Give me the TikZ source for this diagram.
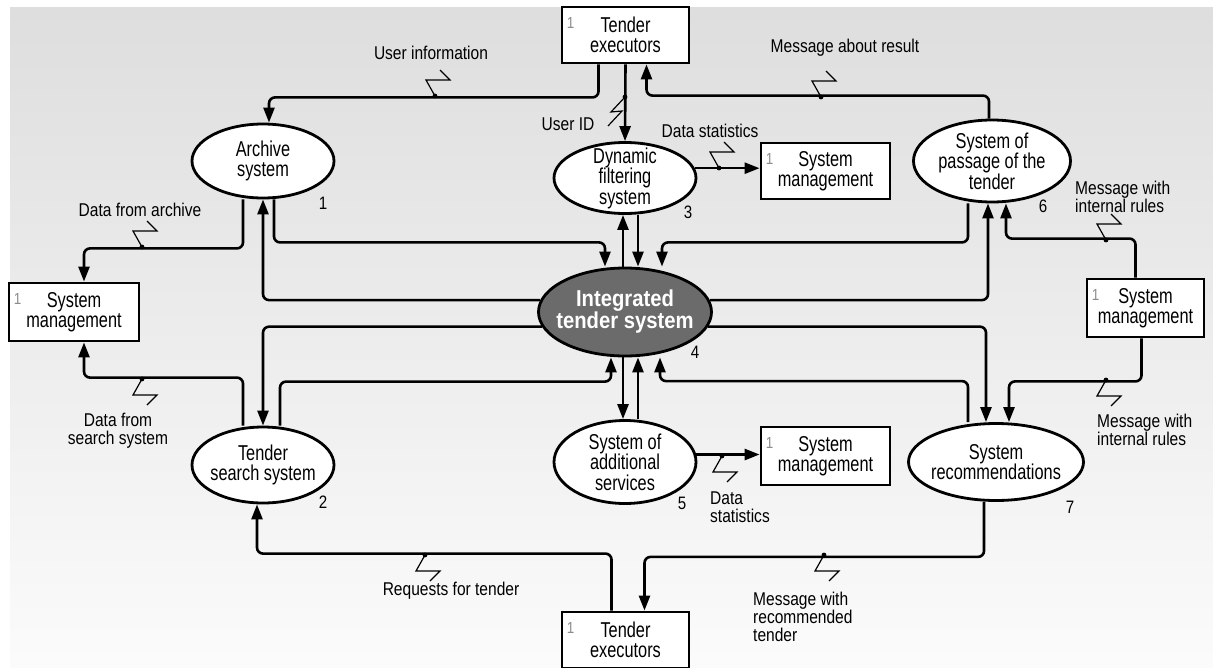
\documentclass[tikz,border=0pt]{standalone}
\usepackage{fontspec}
\setmainfont{Liberation Sans}[FakeStretch=0.76]
\newfontfamily\lblfont{Liberation Sans}[FakeStretch=0.84]
\newfontfamily\intfont{Liberation Sans}[FakeStretch=0.88]
\usetikzlibrary{arrows.meta}
\usetikzlibrary{shapes.geometric}

\begin{document}
\begin{tikzpicture}[x=1pt, y=-1pt,
  proc/.style={draw, black, fill=white, ellipse, line width=2.8pt, inner sep=-10pt, align=center, font=\fontsize{21.5}{20.5}\selectfont},
  ext/.style={draw, black, fill=white, rectangle, line width=2.8pt, inner sep=2pt, align=center, font=\fontsize{21.5}{20.5}\selectfont},
  flow/.style={line width=2.6pt, rounded corners=6pt, -{Triangle[length=15pt, width=11pt]}},
  msg/.style={inner sep=0pt, align=center, font=\lblfont\fontsize{18.5}{18}\selectfont},
  num/.style={inner sep=0pt, font=\lblfont\fontsize{18}{18}\selectfont},
  one/.style={inner sep=0pt, text=black!45, font=\lblfont\fontsize{16}{16}\selectfont},
  zigup/.pic={\fill (0,0) circle (2.4pt);
    \draw[line width=1.2pt] (0,0) -- (-9,-16) -- (15,-16) -- (5,-26);},
  zigdn/.pic={\fill (0,0) circle (2.4pt);
    \draw[line width=1.2pt] (0,0) -- (-9,16) -- (15,16) -- (5,26);},
  zigvt/.pic={\fill (0,0) circle (2.4pt);
    \draw[line width=1.2pt] (0,0) -- (-14,15) -- (-3,14) -- (-17,29);},
]
\useasboundingbox (0,0) rectangle (1213,667);
\clip (0,0) rectangle (1213,667);
\shade [top color=black!13, bottom color=black!1.5] (10,7) rectangle (1213,667);

% external entities
\node [ext, minimum width=127pt, minimum height=56pt, name=te1] at (625.5,35) {Tender\\executors};
\node [ext, minimum width=127pt, minimum height=56pt, name=te2] at (625.5,640) {Tender\\executors};
\node [ext, minimum width=130pt, minimum height=58pt, name=sm1] at (74,312) {System\\management};
\node [ext, minimum width=129pt, minimum height=56pt, name=sm2] at (825.5,171) {System\\management};
\node [ext, minimum width=117pt, minimum height=58pt, name=sm3] at (1145.5,308) {System\\management};
\node [ext, minimum width=129pt, minimum height=58pt, name=sm4] at (825.5,456) {System\\management};
\node [one, name=te1o] at ([shift={(10,17)}]te1.north west) {1};
\node [one, name=te2o] at ([shift={(10,17)}]te2.north west) {1};
\node [one, name=sm1o] at ([shift={(10,17)}]sm1.north west) {1};
\node [one, name=sm2o] at ([shift={(10,17)}]sm2.north west) {1};
\node [one, name=sm3o] at ([shift={(10,17)}]sm3.north west) {1};
\node [one, name=sm4o] at ([shift={(10,17)}]sm4.north west) {1};

% processes
\node [proc, minimum width=142pt, minimum height=74pt, name=arch] at (263,161) {Archive\\system};
\node [proc, minimum width=142pt, minimum height=71pt, name=dyn] at (625,178) {Dynamic\\filtering\\system};
\node [proc, minimum width=157pt, minimum height=82pt, name=pass] at (992,161) {System of\\passage of the\\tender};
\node [proc, minimum width=173pt, minimum height=88pt, fill=black!58, text=white, font=\intfont\bfseries\fontsize{23}{22}\selectfont, name=intg] at (625,312) {Integrated\\tender system};
\node [proc, minimum width=142pt, minimum height=76pt, name=srch] at (263,465) {Tender\\search system};
\node [proc, minimum width=142pt, minimum height=83pt, name=addl] at (625,462) {System of\\additional\\services};
\node [proc, minimum width=175pt, minimum height=77pt, name=rec] at (996,462) {System\\recommendations};
\node [num, name=n1] at (323,203) {1};
\node [num, name=n2] at (323,502) {2};
\node [num, name=n3] at (688,212) {3};
\node [num, name=n4] at (695,352) {4};
\node [num, name=n5] at (682,503) {5};
\node [num, name=n6] at (1043,206) {6};
\node [num, name=n7] at (1070,507) {7};

% flows
\draw [flow] ([xshift=-27pt]te1.south) -- ++(0,33) -| ([xshift=6pt]arch.north);
\draw [flow] (te1.south) -- (dyn.north);
\draw [flow] ([xshift=-3pt]pass.north) -- ++(0,-23) -| ([xshift=21pt]te1.south);
\draw [flow] (dyn.8) -- (dyn.8 -| sm2.west);
\draw [flow] ([xshift=-20pt]arch.south) -- ++(0,49) -| ([xshift=10pt]sm1.north);
\draw [flow] ([xshift=11pt]arch.south) -- ++(0,43) -| ([xshift=-20pt]intg.north);
\draw [flow] (intg.172) -| (arch.south);
\draw [flow] (intg.190) -| (srch.north);
\draw [flow] ([xshift=17pt]srch.north) -- ++(0,-44) -| ([xshift=-14pt]intg.south);
\draw [flow] ([xshift=-20pt]srch.north) -- ++(0,-48) -| ([xshift=10pt]sm1.south);
\draw [flow] ([xshift=-14pt]te2.north) -- ++(0,-57) -| ([xshift=-6pt]srch.south);
\draw [flow] ([xshift=-12pt]rec.south) -- ++(0,55) -| ([xshift=19pt]te2.north);
\draw [flow] ([xshift=-2pt]intg.north) -- ([xshift=-2pt]dyn.south);
\draw [flow] ([xshift=13pt]dyn.south) -- ([xshift=13pt]intg.north);
\draw [flow] ([xshift=-2pt]intg.south) -- ([xshift=-2pt]addl.north);
\draw [flow] ([xshift=13pt]addl.north) -- ([xshift=13pt]intg.south);
\draw [flow] (addl.6) -- (addl.6 -| sm4.west);
\draw [flow] ([xshift=-24pt]pass.south) -- ++(0,39) -| ([xshift=37pt]intg.north);
\draw [flow] (intg.8) -| ([xshift=-4pt]pass.south);
\draw [flow] ([xshift=-10pt]sm3.north) -- ++(0,-39) -| ([xshift=14pt]pass.south);
\draw [flow] (intg.350) -| ([xshift=-10pt]rec.north);
\draw [flow] ([xshift=-4pt]sm3.south) -- ++(0,43) -| ([xshift=13pt]rec.north);
\draw [flow] ([xshift=-28pt]rec.north) -- ++(0,-41) -| ([xshift=35pt]intg.south);

% data marks
\pic at (435,96) {zigup};
\pic at (625,97) {zigvt};
\pic at (821,97) {zigup};
\pic at (719,168) {zigup};
\pic at (142,247) {zigup};
\pic at (142,379) {zigdn};
\pic at (425,555) {zigdn};
\pic at (824,555) {zigdn};
\pic at (722,456) {zigdn};
\pic at (1106,240) {zigup};
\pic at (1106,380) {zigdn};

% flow labels
\node [msg, name=l1] at (431,53) {User information};
\node [msg, name=l2] at (568,124) {User ID};
\node [msg, name=l3] at (845,48) {Message about result};
\node [msg, name=l4] at (710,131) {Data statistics};
\node [msg, name=l5] at (140,210) {Data from archive};
\node [msg, name=l6] at (118,431) {Data from\\search system};
\node [msg, name=l7] at (451,591) {Requests for tender};
\node [msg, align=left, anchor=west, name=l8] at (753,617) {Message with\\recommended\\tender};
\node [msg, align=left, anchor=west, name=l9] at (710,507) {Data\\statistics};
\node [msg, align=left, anchor=west, name=l10] at (1075,197) {Message with\\internal rules};
\node [msg, align=left, anchor=west, name=l11] at (1097,430) {Message with\\internal rules};
\end{tikzpicture}
\end{document}
